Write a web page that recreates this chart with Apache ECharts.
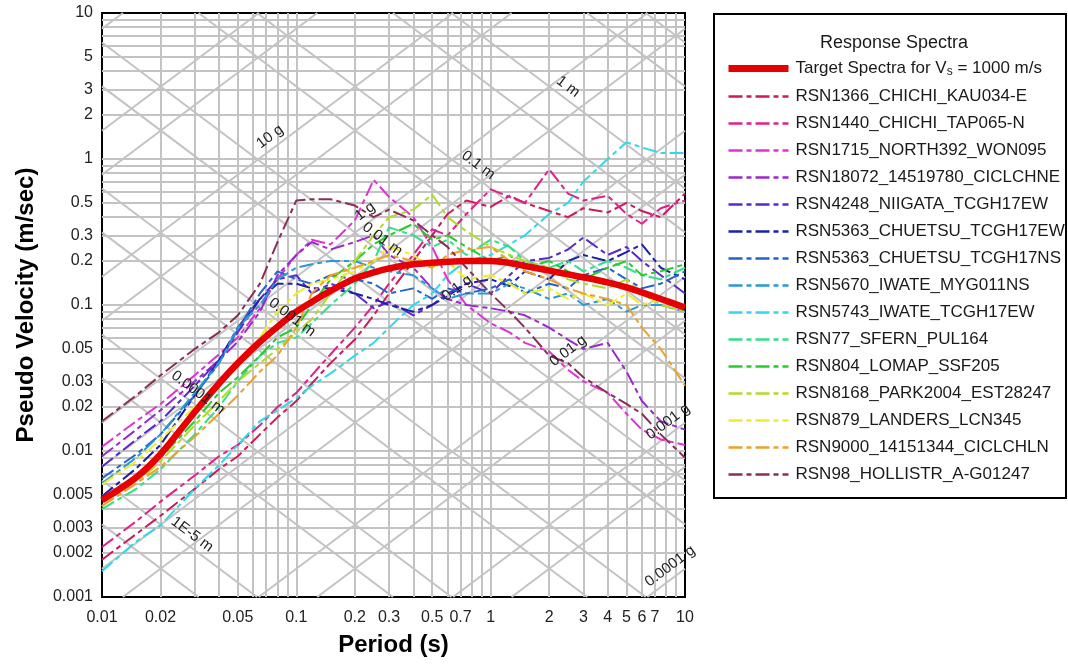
<!DOCTYPE html>
<html><head><meta charset="utf-8">
<script src="https://cdn.jsdelivr.net/npm/echarts@6/dist/echarts.min.js"></script>
<style>html,body{margin:0;padding:0;background:#fff}#c{width:1068px;height:664px}</style>
</head><body><div id="c"></div>
<script>
// ---------- data ----------
const PERIODS = [0.01,0.015,0.02,0.03,0.04,0.05,0.065,0.08,0.1,0.12,0.15,0.2,0.25,0.3,0.4,0.5,0.6,0.75,1,1.25,1.5,2,2.5,3,4,5,6,7.5,10];
const TARGET   = [0.0046,0.0066,0.0095,0.0185,0.029,0.04,0.056,0.071,0.09,0.105,0.125,0.152,0.167,0.178,0.19,0.195,0.198,0.2,0.2,0.194,0.185,0.172,0.162,0.155,0.143,0.132,0.122,0.11,0.096];
const RSN1366  = [0.0018,0.0027,0.0036,0.0055,0.0075,0.0092,0.013,0.017,0.022,0.029,0.04,0.058,0.085,0.12,0.2,0.3,0.42,0.52,0.47,0.56,0.5,0.44,0.4,0.46,0.43,0.5,0.44,0.4,0.58];
const RSN1440  = [0.0022,0.0033,0.0045,0.0068,0.0092,0.011,0.015,0.02,0.025,0.033,0.046,0.07,0.1,0.14,0.22,0.33,0.3,0.42,0.62,0.55,0.5,0.85,0.58,0.52,0.56,0.42,0.36,0.46,0.52];
const RSN1715  = [0.0107,0.016,0.021,0.033,0.046,0.06,0.095,0.15,0.22,0.28,0.26,0.38,0.72,0.55,0.4,0.25,0.15,0.1,0.075,0.065,0.055,0.048,0.036,0.03,0.025,0.018,0.014,0.012,0.011];
const RSN18072 = [0.0092,0.014,0.019,0.03,0.042,0.056,0.09,0.16,0.22,0.27,0.24,0.27,0.3,0.22,0.18,0.13,0.11,0.1,0.095,0.09,0.085,0.07,0.058,0.05,0.055,0.035,0.022,0.016,0.014];
const RSN4248  = [0.0078,0.012,0.016,0.028,0.042,0.065,0.11,0.15,0.16,0.12,0.14,0.12,0.095,0.105,0.085,0.1,0.12,0.14,0.12,0.16,0.2,0.21,0.24,0.29,0.22,0.25,0.2,0.16,0.12];
const RSN5363EW= [0.0049,0.0076,0.011,0.024,0.042,0.07,0.11,0.14,0.14,0.13,0.13,0.12,0.11,0.1,0.09,0.1,0.115,0.14,0.15,0.135,0.17,0.15,0.2,0.22,0.2,0.23,0.26,0.18,0.15];
const RSN5363NS= [0.0065,0.0095,0.013,0.024,0.04,0.068,0.12,0.17,0.15,0.14,0.16,0.15,0.14,0.12,0.13,0.11,0.13,0.12,0.13,0.15,0.12,0.14,0.13,0.16,0.18,0.15,0.13,0.14,0.17];
const RSN5670  = [0.006,0.009,0.013,0.025,0.04,0.07,0.1,0.15,0.18,0.19,0.2,0.2,0.18,0.17,0.16,0.13,0.11,0.12,0.12,0.14,0.13,0.11,0.12,0.1,0.11,0.09,0.1,0.1,0.09];
const RSN5743  = [0.0015,0.0024,0.0031,0.0055,0.008,0.011,0.016,0.019,0.023,0.028,0.034,0.045,0.055,0.07,0.1,0.12,0.16,0.2,0.22,0.26,0.3,0.42,0.5,0.7,1.0,1.3,1.2,1.1,1.1];
const RSN77    = [0.004,0.0055,0.0075,0.013,0.02,0.03,0.045,0.055,0.06,0.075,0.1,0.14,0.2,0.34,0.3,0.25,0.28,0.22,0.28,0.25,0.2,0.18,0.2,0.17,0.2,0.18,0.16,0.15,0.18];
const RSN804   = [0.0046,0.0065,0.009,0.016,0.025,0.032,0.045,0.06,0.07,0.1,0.15,0.2,0.26,0.3,0.36,0.28,0.3,0.25,0.2,0.22,0.18,0.2,0.17,0.15,0.18,0.2,0.16,0.17,0.19];
const RSN8168  = [0.0042,0.006,0.0085,0.015,0.022,0.03,0.04,0.05,0.065,0.08,0.12,0.2,0.3,0.4,0.45,0.57,0.4,0.32,0.25,0.22,0.2,0.18,0.15,0.14,0.13,0.15,0.12,0.1,0.09];
const RSN879   = [0.0059,0.0085,0.012,0.02,0.03,0.04,0.06,0.09,0.12,0.14,0.15,0.17,0.2,0.25,0.22,0.18,0.2,0.15,0.16,0.14,0.12,0.13,0.11,0.12,0.1,0.12,0.1,0.11,0.1];
const RSN9000  = [0.0042,0.006,0.0078,0.0125,0.018,0.024,0.035,0.045,0.07,0.12,0.16,0.18,0.2,0.22,0.2,0.18,0.22,0.24,0.25,0.2,0.17,0.15,0.13,0.12,0.11,0.1,0.07,0.05,0.028];
const RSN98    = [0.016,0.024,0.033,0.05,0.065,0.085,0.14,0.27,0.52,0.53,0.53,0.48,0.4,0.45,0.38,0.3,0.25,0.18,0.12,0.09,0.07,0.045,0.04,0.032,0.025,0.021,0.018,0.013,0.009];

const TARGET_NAME = 'Target Spectra for Vs = 1000 m/s';
const RECORD_NAMES = ['RSN1366_CHICHI_KAU034-E','RSN1440_CHICHI_TAP065-N','RSN1715_NORTH392_WON095','RSN18072_14519780_CICLCHNE','RSN4248_NIIGATA_TCGH17EW','RSN5363_CHUETSU_TCGH17EW','RSN5363_CHUETSU_TCGH17NS','RSN5670_IWATE_MYG011NS','RSN5743_IWATE_TCGH17EW','RSN77_SFERN_PUL164','RSN804_LOMAP_SSF205','RSN8168_PARK2004_EST28247','RSN879_LANDERS_LCN345','RSN9000_14151344_CICLCHLN','RSN98_HOLLISTR_A-G01247'];
const RECORD_VALUES = [RSN1366,RSN1440,RSN1715,RSN18072,RSN4248,RSN5363EW,RSN5363NS,RSN5670,RSN5743,RSN77,RSN804,RSN8168,RSN879,RSN9000,RSN98];
const RECORD_COLORS = ['#cc1a5c','#e0208c','#e030d8','#9a28d0','#5a28c8','#1c20a8','#2462cc','#2898d8','#30d8ec','#30e088','#28cc28','#b0dc28','#eeee28','#eea028','#8c2c58'];

const X_TICKS = [0.01,0.02,0.05,0.1,0.2,0.3,0.5,0.7,1,2,3,4,5,6,7,10];
const Y_TICKS = [0.001,0.002,0.003,0.005,0.01,0.02,0.03,0.05,0.1,0.2,0.3,0.5,1,2,3,5,10];
const X_GRID = [0.02,0.03,0.04,0.05,0.06,0.07,0.08,0.09,0.1,0.2,0.3,0.4,0.5,0.6,0.7,0.8,0.9,1,2,3,4,5,6,7,8,9];
const Y_GRID = [0.002,0.003,0.004,0.005,0.006,0.007,0.008,0.009,0.01,0.02,0.03,0.04,0.05,0.06,0.07,0.08,0.09,0.1,0.2,0.3,0.4,0.5,0.6,0.7,0.8,0.9,1,2,3,4,5,6,7,8,9];
const DISP_LINES = [0.000001,0.000005,0.00001,0.00005,0.0001,0.0005,0.001,0.005,0.01,0.05,0.1,0.5,1,5,10,50];   // m
const ACC_LINES  = [0.00001,0.00005,0.0001,0.0005,0.001,0.005,0.01,0.05,0.1,0.5,1,5,10,50,100,500,1000]; // g
const DISP_LABELS = [['1E-5 m',0.00001],['0.0001 m',0.0001],['0.001 m',0.001],['0.01 m',0.01],['0.1 m',0.1],['1 m',1]];
const DISP_LABEL_AT = [0.0269,0.0288,0.0879,0.256,0.797,2.31];
const ACC_LABELS = [['10 g',10],['1 g',1],['0.1 g',0.1],['0.01 g',0.01],['0.001 g',0.001],['0.0001 g',0.0001]];
const ACC_LABEL_AT = [0.0792,0.244,0.727,2.706,8.85,9.06];

// ---------- build ----------
const FONT = '"Liberation Sans", Arial, sans-serif';
const T0 = 0.01, T1 = 10, V0 = 0.001, V1 = 10, G = 9.81, TWO_PI = 2 * Math.PI;
const fmt = v => String(+v.toPrecision(6));

const gridLines = [];
X_GRID.forEach(t => gridLines.push({coords: [[t, V0], [t, V1]]}));
Y_GRID.forEach(v => gridLines.push({coords: [[T0, v], [T1, v]]}));
DISP_LINES.forEach(d => {
  const k = TWO_PI * d;
  const ta = Math.max(T0, k / V1), tb = Math.min(T1, k / V0);
  if (ta < tb) gridLines.push({coords: [[ta, k / ta], [tb, k / tb]]});
});
ACC_LINES.forEach(a => {
  const k = G * a / TWO_PI;
  const ta = Math.max(T0, V0 / k), tb = Math.min(T1, V1 / k);
  if (ta < tb) gridLines.push({coords: [[ta, k * ta], [tb, k * tb]]});
});

const DASH = [14, 4, 5, 4];
const series = [{
  type: 'lines', coordinateSystem: 'cartesian2d', data: gridLines, silent: true, z: 1,
  lineStyle: {color: '#c3c3c3', width: 2, opacity: 1, curveness: 0}
}, {
  type: 'line', name: TARGET_NAME, data: PERIODS.map((t, i) => [t, TARGET[i]]),
  symbol: 'none', showSymbol: false, smooth: 0.3, z: 4,
  lineStyle: {color: '#e60000', width: 6.5, type: 'solid'}, itemStyle: {color: '#e60000'}
}];
RECORD_NAMES.forEach((n, j) => {
  series.push({
    type: 'line', name: n, data: PERIODS.map((t, i) => [t, RECORD_VALUES[j][i]]),
    symbol: 'none', showSymbol: false, z: 3,
    lineStyle: {color: RECORD_COLORS[j], width: 2, type: DASH}, itemStyle: {color: RECORD_COLORS[j]}
  });
});

const chart = echarts.init(document.getElementById('c'), null, {renderer: 'canvas'});
chart.setOption({
  animation: false,
  backgroundColor: '#fff',
  grid: {left: 102, right: 383, top: 13, bottom: 67, show: true, borderColor: '#000', borderWidth: 2,
         backgroundColor: 'transparent', containLabel: false, outerBoundsMode: 'none'},
  xAxis: {
    type: 'log', logBase: 10, min: T0, max: T1,
    axisLabel: {show: false}, axisTick: {show: false}, axisLine: {show: false}, splitLine: {show: false},
    name: 'Period (s)', nameLocation: 'middle', nameGap: 36,
    nameTextStyle: {fontSize: 24, fontWeight: 'bold', color: '#000', fontFamily: FONT}
  },
  yAxis: {
    type: 'log', logBase: 10, min: V0, max: V1,
    axisLabel: {show: false}, axisTick: {show: false}, axisLine: {show: false}, splitLine: {show: false},
    name: 'Pseudo Velocity (m/sec)', nameLocation: 'middle', nameGap: 64,
    nameTextStyle: {fontSize: 24, fontWeight: 'bold', color: '#000', fontFamily: FONT}
  },
  legend: {
    orient: 'vertical', left: 720, top: 55, itemWidth: 60, itemHeight: 14, itemGap: 10,
    selectedMode: false, z: 6,
    itemStyle: {opacity: 0, borderWidth: 0},
    data: [{name: TARGET_NAME, lineStyle: {width: 7}}].concat(RECORD_NAMES.map(n => ({name: n, lineStyle: {width: 2.5}}))),
    formatter: name => name === TARGET_NAME ? '{a|Target Spectra for V}{s|s}{a| = 1000 m/s}' : name,
    textStyle: {
      fontSize: 17, color: '#1a1a1a', fontFamily: FONT, lineHeight: 17, padding: [0, 0, 0, 2],
      rich: {a: {fontSize: 17, color: '#1a1a1a', fontFamily: FONT, lineHeight: 17},
             s: {fontSize: 12, color: '#1a1a1a', fontFamily: FONT, padding: [7, 0, 0, 0]}}
    }
  },
  series: series
});

// ---------- text placed through the axes' scales ----------
const px = (t, v) => chart.convertToPixel({gridIndex: 0}, [t, v]);
const els = [];
els.push({type: 'rect', z: 0, shape: {x: 714, y: 14, width: 352, height: 484},
  style: {fill: '#fff', stroke: '#000', lineWidth: 2}});
els.push({type: 'text', z: 7, x: 894, y: 43,
  style: {text: 'Response Spectra', font: '18px ' + FONT, fill: '#1a1a1a', textAlign: 'center', textVerticalAlign: 'middle'}});
X_TICKS.forEach(t => {
  const p = px(t, V0);
  els.push({type: 'text', z: 7, x: p[0], y: p[1] + 13,
    style: {text: fmt(t), font: '16px ' + FONT, fill: '#222', textAlign: 'center', textVerticalAlign: 'top'}});
});
Y_TICKS.forEach(v => {
  const p = px(T0, v);
  els.push({type: 'text', z: 7, x: p[0] - 9, y: p[1],
    style: {text: fmt(v), font: '16px ' + FONT, fill: '#222', textAlign: 'right', textVerticalAlign: 'middle'}});
});
function diagLabel(text, f, at) {
  const p1 = px(at, f(at)), p2 = px(at * 1.5, f(at * 1.5));
  let dx = p2[0] - p1[0], dy = p2[1] - p1[1];
  const L = Math.hypot(dx, dy); dx /= L; dy /= L;
  const off = 11;
  els.push({type: 'text', z: 8, x: p1[0] + dy * off, y: p1[1] - dx * off, rotation: -Math.atan2(dy, dx),
    style: {text: text, font: '15px ' + FONT, fill: '#222', textAlign: 'center', textVerticalAlign: 'middle'}});
}
DISP_LABELS.forEach((l, i) => diagLabel(l[0], t => TWO_PI * l[1] / t, DISP_LABEL_AT[i]));
ACC_LABELS.forEach((l, i) => diagLabel(l[0], t => G * l[1] * t / TWO_PI, ACC_LABEL_AT[i]));
chart.setOption({graphic: {elements: els}});
</script></body></html>
